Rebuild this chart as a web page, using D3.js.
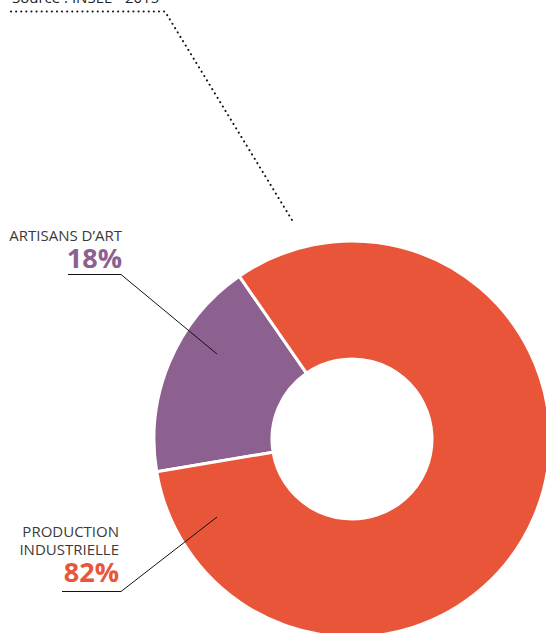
<!DOCTYPE html>
<html>
<head>
<meta charset="utf-8">
<script src="https://cdn.jsdelivr.net/npm/d3@7"></script>
<style>
  html, body { margin: 0; padding: 0; background: #fff; }
  svg { display: block; }
  .lbl { font-family: "Open Sans", sans-serif; fill: #3a3a3a; }
  .pct { font-family: "Open Sans", sans-serif; font-weight: 700; }
</style>
</head>
<body>
<svg id="chart" width="546" height="633"></svg>
<script>
// data
const categories = ['ARTISANS D\u2019ART', 'PRODUCTION INDUSTRIELLE'];
const shares     = [18, 82];
const colors     = ['#8C6190', '#E95538'];
const source     = 'Source : INSEE - 2015';

const svg = d3.select('#chart');
const cx = 352, cy = 439;
const rOuter = 198, rInner = 80;

// donut
const pie = d3.pie().sort(null)
  .startAngle(260.5 * Math.PI / 180)
  .endAngle(260.5 * Math.PI / 180 + 2 * Math.PI);
const arc = d3.arc().innerRadius(rInner).outerRadius(rOuter);

const slices = pie(shares.map((v, i) => ({ v, i })).map(d => d.v));

svg.append('g')
  .attr('transform', `translate(${cx},${cy})`)
  .selectAll('path')
  .data(slices)
  .enter().append('path')
    .attr('d', arc)
    .attr('fill', (d, i) => colors[i])
    .attr('stroke', '#fff')
    .attr('stroke-width', 3);

// dotted source leader
svg.append('text')
  .attr('class', 'lbl')
  .attr('x', 12).attr('y', 3)
  .attr('font-size', 15)
  .style('fill', '#222')
  .text(source);

svg.append('path')
  .attr('d', 'M11,11.5 L165,11.5 L292,220')
  .attr('fill', 'none')
  .attr('stroke', '#111')
  .attr('stroke-width', 2)
  .attr('stroke-linecap', 'round')
  .attr('stroke-dasharray', '0.1 5');

// callouts
const callouts = [
  { lines: ['ARTISANS D\u2019ART'], lineY: [241], pctY: 268, right: 122,
    leader: [[68, 274.5], [121, 274.5], [217, 354]] },
  { lines: ['PRODUCTION', 'INDUSTRIELLE'], lineY: [537, 555], pctY: 582, right: 119,
    leader: [[62, 591.5], [121, 591.5], [217, 517]] }
];

callouts.forEach((c, i) => {
  c.lines.forEach((t, j) => {
    svg.append('text')
      .attr('class', 'lbl')
      .attr('x', c.right).attr('y', c.lineY[j])
      .attr('text-anchor', 'end')
      .attr('font-size', 15)
      .text(t);
  });
  svg.append('text')
    .attr('class', 'pct')
    .attr('x', c.right).attr('y', c.pctY)
    .attr('text-anchor', 'end')
    .attr('font-size', 27)
    .attr('fill', colors[i])
    .text(shares[i] + '%');
  svg.append('path')
    .attr('d', d3.line()(c.leader))
    .attr('fill', 'none')
    .attr('stroke', '#111')
    .attr('stroke-width', 1);
});
</script>
</body>
</html>
